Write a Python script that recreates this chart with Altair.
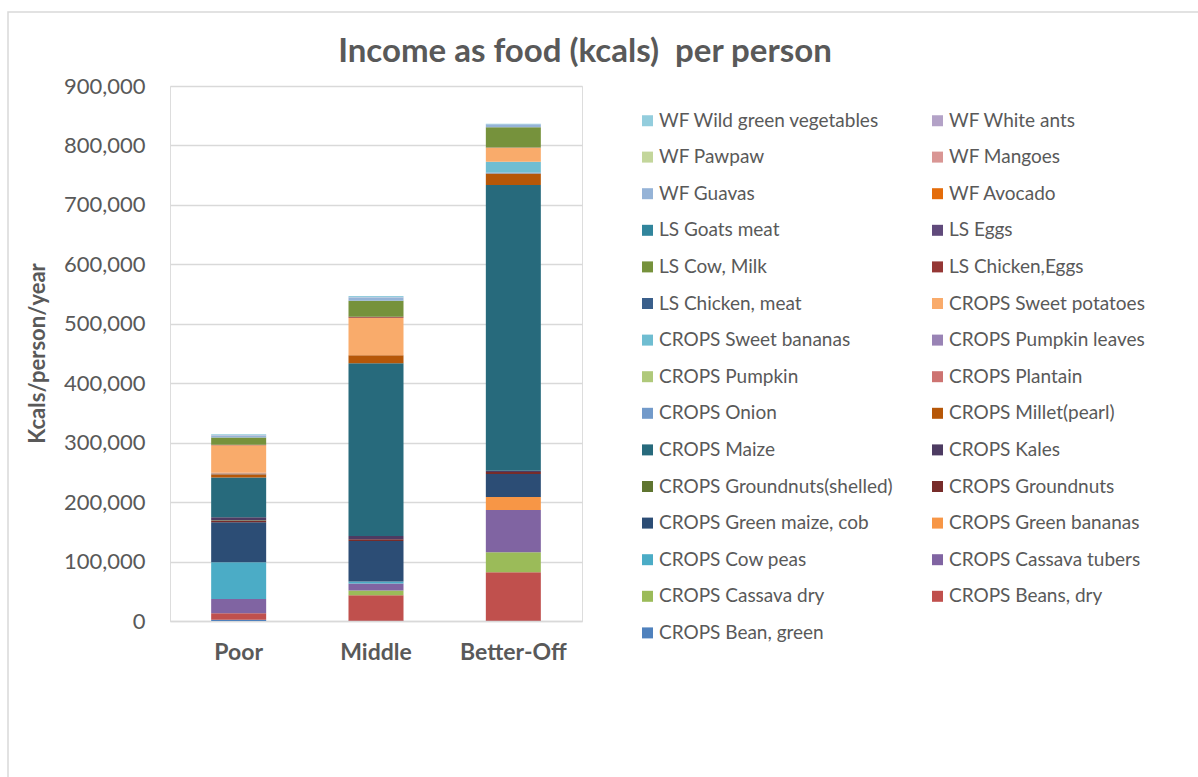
import altair as alt
import pandas as pd

categories = ["Poor", "Middle", "Better-Off"]

series = [
    "CROPS Bean, green", "CROPS Beans, dry", "CROPS Cassava dry", "CROPS Cassava tubers",
    "CROPS Cow peas", "CROPS Green bananas", "CROPS Green maize, cob", "CROPS Groundnuts",
    "CROPS Groundnuts(shelled)", "CROPS Kales", "CROPS Maize", "CROPS Millet(pearl)",
    "CROPS Onion", "CROPS Plantain", "CROPS Pumpkin", "CROPS Pumpkin leaves",
    "CROPS Sweet bananas", "CROPS Sweet potatoes", "LS Chicken, meat", "LS Chicken,Eggs",
    "LS Cow, Milk", "LS Eggs", "LS Goats meat", "WF Avocado", "WF Guavas", "WF Mangoes",
    "WF Pawpaw", "WF White ants", "WF Wild green vegetables",
]

poor = [2000, 11000, 0, 24000, 62000, 0, 67000, 2500, 1000, 5000, 67000, 5500,
        500, 1000, 500, 500, 0, 46000, 0, 1000, 12000, 0, 0, 0, 3000, 0, 0, 1000, 1500]
middle = [500, 43000, 7800, 11800, 3300, 0, 68000, 3000, 0, 5500, 290500, 13500,
          0, 0, 0, 0, 0, 63300, 0, 1500, 27000, 0, 0, 0, 5500, 0, 0, 500, 2000]
better_off = [500, 81500, 33600, 71000, 0, 22000, 38700, 3500, 0, 2000, 480600, 19600,
              1500, 0, 0, 0, 18000, 23600, 0, 500, 34000, 0, 0, 0, 5000, 0, 0, 0, 1000]

colors = [
    "#4F81BD", "#C0504D", "#9BBB59", "#8064A2", "#4BACC6", "#F79646",
    "#2C4D75", "#772C2A", "#5F7530", "#4D3B62", "#276A7C", "#B65708",
    "#729ACA", "#CD7371", "#AFC97A", "#9983B5", "#6FBDD1", "#F9AB6B",
    "#3A5F8B", "#953735", "#76923C", "#604A7B", "#31859C", "#E46C0A",
    "#95B3D7", "#D99694", "#C3D69B", "#B3A2C7", "#93CDDD",
]

y_ticks = [0, 100000, 200000, 300000, 400000, 500000, 600000, 700000, 800000, 900000]

title_text = "Income as food (kcals)\u00a0 per person"

rows = []
for i, s in enumerate(series):
    for cat, vals in zip(categories, [poor, middle, better_off]):
        if vals[i] > 0:
            rows.append({"group": cat, "series": s, "kcal": vals[i], "idx": i})
df = pd.DataFrame(rows)

# legend reads row-wise from the last series; Vega fills columns first
rev_names = series[::-1]
rev_colors = colors[::-1]
legend_order = rev_names[0::2] + rev_names[1::2]
legend_colors = rev_colors[0::2] + rev_colors[1::2]

FONT = "Lato"
GREY = "#595959"

bars = alt.Chart(df).mark_bar(size=55).encode(
    x=alt.X(
        "group:N", sort=categories,
        scale=alt.Scale(paddingInner=0, paddingOuter=0),
        axis=alt.Axis(title=None, labelAngle=0, labelFont=FONT, labelFontSize=23,
                      labelFontWeight="bold", labelColor=GREY, labelPadding=20,
                      ticks=False, domainColor="#D9D9D9", domainWidth=1.5, grid=False),
    ),
    y=alt.Y(
        "kcal:Q", stack="zero",
        scale=alt.Scale(domain=[0, 900000], nice=False),
        axis=alt.Axis(values=y_ticks, format=",.0f", title="Kcals/person/year",
                      titleFont=FONT, titleFontSize=22, titleFontWeight="bold",
                      titleColor=GREY, titleAngle=-90, titleX=-133, titleY=267,
                      titleAlign="center", titleBaseline="middle",
                      labelFont=FONT, labelFontSize=22, labelColor=GREY,
                      labelPadding=25, ticks=False, domain=False,
                      gridColor="#D9D9D9", gridWidth=1.3),
    ),
    color=alt.Color(
        "series:N",
        scale=alt.Scale(domain=legend_order, range=legend_colors),
        legend=alt.Legend(title=None, orient="none", legendX=468, legendY=25,
                          columns=2, columnPadding=35, rowPadding=16.6,
                          symbolType="square", symbolSize=121, symbolStrokeWidth=0,
                          labelFont=FONT, labelFontSize=19, labelColor=GREY,
                          labelOffset=2, labelLimit=400),
    ),
    order=alt.Order("idx:Q", sort="ascending"),
)

border = alt.Chart(pd.DataFrame({"a": [0]})).mark_rect(
    fillOpacity=0, stroke="#D9D9D9", strokeWidth=1.5
).encode(x=alt.value(-162), x2=alt.value(1040), y=alt.value(-74), y2=alt.value(700))

title = alt.Chart(pd.DataFrame({"t": [title_text]})).mark_text(
    font=FONT, fontSize=33, fontWeight="bold", color=GREY,
    align="center", baseline="middle"
).encode(text="t:N", x=alt.value(415), y=alt.value(-34))

chart = alt.layer(bars, border, title).properties(
    width=412, height=535,
    autosize=alt.AutoSizeParams(type="none"),
    padding={"left": 170, "top": 86, "right": 616, "bottom": 156},
).configure_view(stroke=None).configure(background="white")

chart.save("out.html", embed_options={"renderer": "svg", "actions": False})
